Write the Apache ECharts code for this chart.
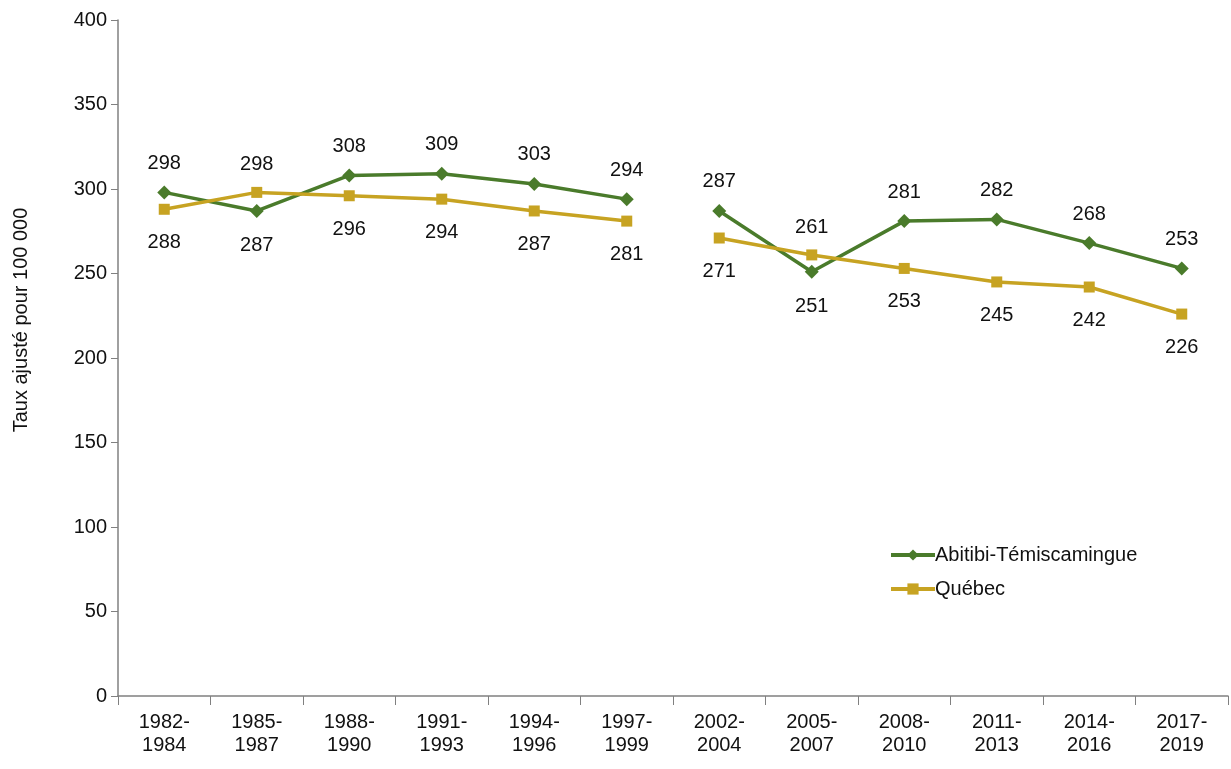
<!DOCTYPE html>
<html>
<head>
<meta charset="utf-8">
<script src="https://cdn.jsdelivr.net/npm/echarts@6/dist/echarts.min.js"></script>
<style>
  html, body { margin: 0; padding: 0; background: #fff; }
  #chart { width: 1231px; height: 769px; }
</style>
</head>
<body>
<div id="chart"></div>
<script>
const periods = ['1982-\n1984', '1985-\n1987', '1988-\n1990', '1991-\n1993', '1994-\n1996', '1997-\n1999',
  '2002-\n2004', '2005-\n2007', '2008-\n2010', '2011-\n2013', '2014-\n2016', '2017-\n2019'];
const abitibi = [298, 287, 308, 309, 303, 294, 287, 251, 281, 282, 268, 253];
const quebec = [288, 298, 296, 294, 287, 281, 271, 261, 253, 245, 242, 226];
// series are drawn in two pieces: the line breaks between 1997-1999 and 2002-2004
const breakAt = 6;
// label goes below for these points (green) / above (gold)
const flipIdx = [1, 7];

const green = '#4a7b2b';
const gold = '#c7a322';
const font = 'Liberation Sans';

(function () {
  const myChart = echarts.init(document.getElementById('chart'));

  function piece(values, first, normalPos, flipPos) {
    return values.map((v, i) => {
      const inPiece = first ? i < breakAt : i >= breakAt;
      if (!inPiece) return '-';
      const pos = flipIdx.includes(i) ? flipPos : normalPos;
      return {
        value: v,
        label: { position: pos, distance: pos === 'top' ? 12 : 18 },
      };
    });
  }

  function makeSeries(name, values, color, symbol, size, normalPos, flipPos) {
    return [true, false].map((first) => ({
      name: name,
      type: 'line',
      symbol: symbol,
      symbolSize: size,
      itemStyle: { color: color },
      lineStyle: { color: color, width: 3.5 },
      label: {
        show: true,
        color: '#111',
        fontFamily: font,
        fontSize: 20,
      },
      data: piece(values, first, normalPos, flipPos),
    }));
  }

  const option = {
    animation: false,
    grid: {
      left: 118,
      right: 3,
      top: 20,
      bottom: 73,
      containLabel: false,
      outerBoundsMode: 'none',
    },
    legend: {
      orient: 'vertical',
      left: 884,
      top: 540,
      itemWidth: 44,
      itemHeight: 14,
      itemGap: 14,
      lineStyle: { width: 4 },
      data: ['Abitibi-Témiscamingue', 'Québec'],
      textStyle: { color: '#111', fontFamily: font, fontSize: 20, padding: [0, 0, 0, -5] },
    },
    xAxis: {
      type: 'category',
      data: periods,
      axisLine: { lineStyle: { color: '#808080', width: 1.5 } },
      axisTick: { show: true, length: 9, lineStyle: { color: '#808080' } },
      axisLabel: {
        color: '#111',
        fontFamily: font,
        fontSize: 20,
        lineHeight: 23,
        margin: 15,
        interval: 0,
      },
    },
    yAxis: {
      type: 'value',
      min: 0,
      max: 400,
      interval: 50,
      name: 'Taux ajusté pour 100 000',
      nameLocation: 'middle',
      nameGap: 87,
      nameTextStyle: { color: '#111', fontFamily: font, fontSize: 20, padding: [0, 0, 0, 76] },
      axisLine: { show: true, lineStyle: { color: '#808080', width: 1.5 } },
      axisTick: { show: true, length: 7, lineStyle: { color: '#808080' } },
      axisLabel: { color: '#111', fontFamily: font, fontSize: 20, margin: 11 },
      splitLine: { show: false },
    },
    series: [
      ...makeSeries('Abitibi-Témiscamingue', abitibi, green, 'diamond', 14, 'top', 'bottom'),
      ...makeSeries('Québec', quebec, gold, 'rect', 11, 'bottom', 'top'),
    ],
  };

  myChart.setOption(option);

  window.addEventListener('resize', () => {
    myChart.resize();
  });
})();
</script>
</body>
</html>
